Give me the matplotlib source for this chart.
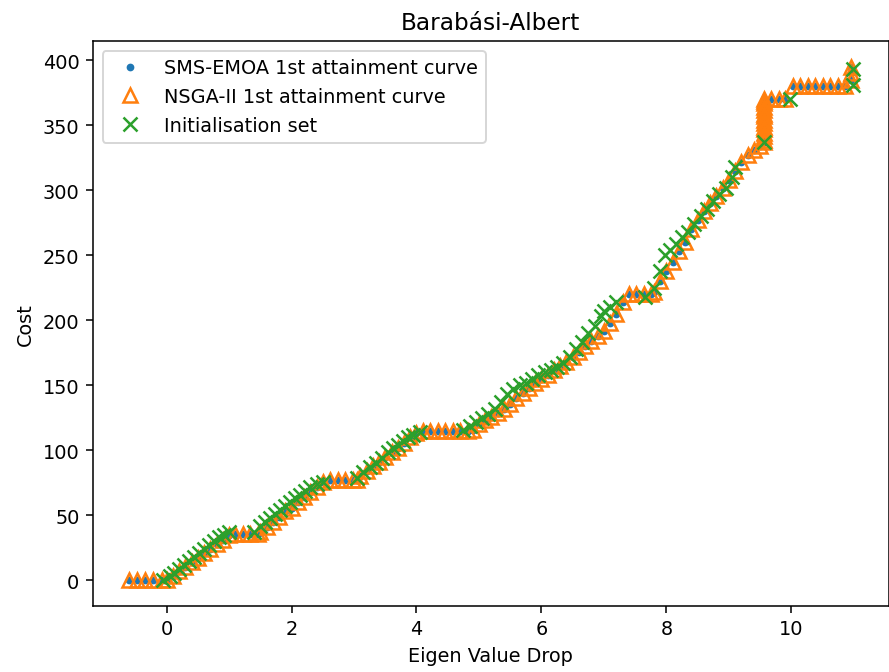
import matplotlib
matplotlib.use("Agg")
import matplotlib.pyplot as plt

# SMS-EMOA 1st attainment curve (staircase)
sms_x = [-0.6, -0.47, -0.34, -0.21, -0.08, 0.0,
         0.1, 0.2, 0.3, 0.4, 0.5, 0.6, 0.7, 0.8, 0.9, 1.0,
         1.1, 1.22, 1.34, 1.46, 1.5,
         1.6, 1.7, 1.8, 1.9, 2.0, 2.1, 2.2, 2.3, 2.4, 2.5,
         2.62, 2.74, 2.86, 2.98, 3.05,
         3.1, 3.2, 3.3, 3.4, 3.5, 3.6, 3.7, 3.8, 3.9, 4.0,
         4.1, 4.22, 4.34, 4.46, 4.58, 4.7, 4.82, 4.9,
         5.0, 5.1, 5.2, 5.3, 5.4, 5.5, 5.6, 5.7, 5.8, 5.9, 6.0,
         6.1, 6.2, 6.3, 6.4, 6.5, 6.6, 6.7, 6.8, 6.9, 7.0,
         7.1, 7.2, 7.3, 7.4, 7.52, 7.64, 7.76,
         7.8, 7.9, 8.0, 8.1, 8.2, 8.3, 8.4, 8.5, 8.6, 8.7, 8.8,
         8.9, 9.0, 9.1, 9.2, 9.3, 9.4, 9.5,
         9.57, 9.57, 9.57, 9.57, 9.57, 9.57, 9.57, 9.57,
         9.68, 9.8, 9.9, 10.02, 10.14, 10.26, 10.38, 10.5, 10.62, 10.74, 10.86,
         10.95, 10.95, 10.95]
sms_y = [0, 0, 0, 0, 0, 0,
         3, 7, 10, 14, 17, 21, 24, 28, 31, 35,
         36, 36, 36, 36, 37,
         41, 45, 49, 53, 56, 60, 64, 68, 72, 76,
         77, 77, 77, 77, 77,
         80, 84, 88, 91, 95, 99, 102, 106, 110, 113,
         115, 115, 115, 115, 115, 115, 115, 116,
         120, 123, 126, 129, 132, 136, 140, 144, 148, 152, 155,
         158, 162, 165, 168, 172, 176, 180, 184, 188, 192,
         198, 205, 214, 220, 220, 220, 220,
         222, 230, 238, 245, 253, 260, 270, 277, 284, 290, 296,
         302, 308, 315, 322, 327, 331, 334,
         337, 342, 347, 352, 357, 362, 367, 370,
         370, 370, 370, 380, 380, 380, 380, 380, 380, 380, 380,
         385, 390, 395]

# NSGA-II 1st attainment curve: same front plus a denser vertical step at 9.57
nsga_extra_x = [9.57, 9.57, 9.57, 9.57, 9.57, 9.57, 9.57]
nsga_extra_y = [339, 344, 349, 354, 359, 364, 369]
nsga_x = sms_x + nsga_extra_x
nsga_y = sms_y + nsga_extra_y

# Initialisation set
init_x = [-0.05, 0.05, 0.12, 0.2, 0.28, 0.36, 0.44, 0.52, 0.6, 0.68, 0.76, 0.84, 0.92, 1.0,
          1.4, 1.5, 1.58, 1.66, 1.74, 1.82, 1.9, 1.98, 2.06, 2.14, 2.22, 2.3, 2.4, 2.5,
          3.05, 3.15, 3.25, 3.35, 3.45, 3.55, 3.62, 3.7, 3.78, 3.86, 3.95, 4.05,
          4.75, 4.85, 4.95, 5.05, 5.15, 5.25, 5.35, 5.45, 5.55, 5.65, 5.75, 5.85, 5.95,
          6.05, 6.15, 6.25, 6.35, 6.45, 6.55, 6.65, 6.75, 6.85, 6.95, 7.0, 7.1, 7.2, 7.65,
          7.8, 7.9, 7.97, 8.05, 8.15, 8.25, 8.35, 8.45, 8.55, 8.65, 8.75, 8.85, 8.95,
          9.05, 9.1, 9.57, 9.98, 10.98, 10.98]
init_y = [0, 3, 6, 9, 12, 15, 18, 21, 24, 27, 30, 33, 35, 37,
          37, 42, 45, 48, 51, 54, 57, 60, 63, 66, 69, 72, 74, 76,
          79, 83, 87, 90, 94, 99, 102, 104, 107, 110, 112, 114,
          116, 119, 122, 125, 128, 132, 137, 143, 147, 150, 152, 155, 158,
          160, 162, 164, 167, 172, 178, 183, 190, 196, 203, 207, 210, 214, 218,
          225, 238, 250, 254, 259, 264, 268, 274, 280, 286, 292, 297, 302,
          310, 318, 337, 370, 381, 393]

fig = plt.figure(figsize=(6.4, 4.84), dpi=139)
ax = fig.add_subplot(111)
fig.subplots_adjust(left=0.1045, right=0.999, top=0.9376, bottom=0.098)

ax.plot(sms_x, sms_y, ".", color="tab:blue", label="SMS-EMOA 1st attainment curve")
ax.plot(nsga_x, nsga_y, "^", color="tab:orange", markerfacecolor="none",
        markersize=7, markeredgewidth=1.3, label="NSGA-II 1st attainment curve")
ax.plot(init_x, init_y, "x", color="tab:green", markersize=7, markeredgewidth=1.3,
        label="Initialisation set")

ax.set_title("Barabási-Albert")
ax.set_xlabel("Eigen Value Drop")
ax.set_ylabel("Cost")
ax.legend(loc="upper left")

fig.savefig("out.png", dpi=139)
